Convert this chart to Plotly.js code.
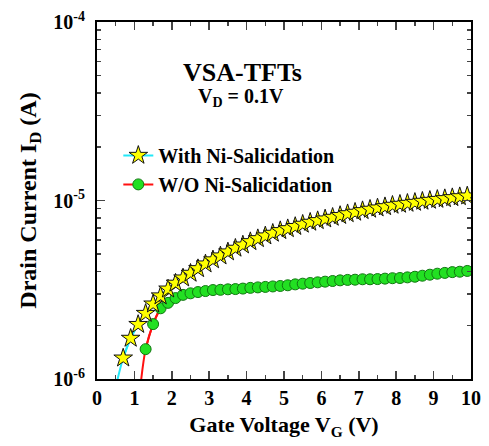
<!DOCTYPE html>
<html><head><meta charset="utf-8">
<script src="https://cdn.plot.ly/plotly-3.0.1.min.js"></script>
<style>body{margin:0;background:#fff}#c{width:489px;height:446px}</style>
</head><body><div id="c"></div>
<script>
// With Ni-Salicidation (stars)
const vgWith = [0.7,0.9,1.1,1.3,1.5,1.7,1.9,2.1,2.3,2.5,2.7,2.9,3.1,3.3,3.5,3.7,3.9,4.1,4.3,4.5,4.7,4.9,
  5.1,5.3,5.5,5.7,5.9,6.1,6.3,6.5,6.7,6.9,7.1,7.3,7.5,7.7,7.9,8.1,8.3,8.5,8.7,8.9,9.1,9.3,9.5,9.7,9.9];
const idWith = [1.31e-6,1.69e-6,2.02e-6,2.33e-6,2.63e-6,2.92e-6,3.19e-6,3.44e-6,3.68e-6,3.91e-6,4.15e-6,4.41e-6,
  4.65e-6,4.89e-6,5.15e-6,5.40e-6,5.63e-6,5.88e-6,6.11e-6,6.33e-6,6.55e-6,6.78e-6,
  6.95e-6,7.15e-6,7.36e-6,7.55e-6,7.71e-6,7.88e-6,8.05e-6,8.24e-6,8.43e-6,8.59e-6,8.77e-6,8.93e-6,9.08e-6,9.23e-6,
  9.40e-6,9.52e-6,9.64e-6,9.76e-6,9.90e-6,1.002e-5,1.014e-5,1.024e-5,1.037e-5,1.05e-5,1.06e-5];
// W/O Ni-Salicidation (circles)
const vgWo = [1.3,1.5,1.7,1.9,2.1,2.3,2.5,2.7,2.9,3.1,3.3,3.5,3.7,3.9,4.1,4.3,4.5,4.7,4.9,
  5.1,5.3,5.5,5.7,5.9,6.1,6.3,6.5,6.7,6.9,7.1,7.3,7.5,7.7,7.9,8.1,8.3,8.5,8.7,8.9,9.1,9.3,9.5,9.7,9.9];
const idWo = [1.47e-6,2.03e-6,2.49e-6,2.67e-6,2.84e-6,2.96e-6,3.02e-6,3.07e-6,3.11e-6,3.15e-6,3.16e-6,3.18e-6,3.19e-6,
  3.21e-6,3.24e-6,3.26e-6,3.28e-6,3.30e-6,3.32e-6,
  3.35e-6,3.39e-6,3.42e-6,3.45e-6,3.48e-6,3.51e-6,3.54e-6,3.57e-6,3.59e-6,3.60e-6,3.62e-6,3.62e-6,3.63e-6,3.65e-6,
  3.67e-6,3.68e-6,3.71e-6,3.74e-6,3.79e-6,3.84e-6,3.89e-6,3.93e-6,3.97e-6,3.99e-6,4.03e-6];
// line tails below the first marker (run off the bottom of the axis)
const tailWithX = [0.5], tailWithY = [9.0e-7];
const tailWoX = [1.1], tailWoY = [6.8e-7];

const yTickVals = [1e-6, 1e-5, 1e-4];
const yTickText = ['10<sup>-6</sup>', '10<sup>-5</sup>', '10<sup>-4</sup>'];
const xTickVals = [0,1,2,3,4,5,6,7,8,9,10];
const xTickText = ['0','1','2','3','4','5','6','7','8','9','10'];

const F = 'Liberation Serif, Times New Roman, serif';
const traces = [
  {x: tailWoX.concat(vgWo.slice(0,3)), y: tailWoY.concat(idWo.slice(0,3)), mode:'lines', line:{color:'#ff1010', width:2, shape:'spline'}, showlegend:false, hoverinfo:'skip'},
  {x: vgWo, y: idWo, mode:'lines+markers', name:'W/O Ni-Salicidation', line:{color:'#ff1010', width:2, shape:'spline'},
   marker:{symbol:'circle', size:11, color:'#22e022', line:{color:'#117711', width:1}}},
  {x: tailWithX.concat(vgWith.slice(0,3)), y: tailWithY.concat(idWith.slice(0,3)), mode:'lines', line:{color:'#22e8f8', width:2, shape:'spline'}, showlegend:false, hoverinfo:'skip'},
  {x: vgWith, y: idWith, mode:'lines+markers', name:'With Ni-Salicidation', line:{color:'#22e8f8', width:2, shape:'spline'},
   marker:{symbol:'star', size:14, color:'#ffff00', line:{color:'#111', width:1}}},
  {x: [], y: [], xaxis:'x2', yaxis:'y2', showlegend:false, hoverinfo:'skip'}
];
const tickCommon = {ticks:'inside', ticklen:8, tickwidth:1.5, showline:true, linewidth:2, linecolor:'#000',
  showgrid:false, zeroline:false};
const layout = {
  width:489, height:446,
  margin:{l:97, r:18, t:22, b:67},
  paper_bgcolor:'#fff', plot_bgcolor:'#fff',
  font:{family:F, color:'#000'},
  showlegend:true,
  legend:{x:0.057, y:0.681, xanchor:'left', yanchor:'top', traceorder:'reversed', bgcolor:'rgba(0,0,0,0)',
    font:{family:F, size:20, color:'#000', weight:'bold'}, itemwidth:30, tracegroupgap:0},
  xaxis:Object.assign({}, tickCommon, {range:[0,10], tickvals:xTickVals, ticktext:xTickText,
    minor:{dtick:0.5, ticks:'inside', ticklen:4, tickwidth:1.5, showgrid:false},
    tickfont:{family:F, size:20, weight:'bold'},
    title:{text:'Gate Voltage V<sub>G</sub> (V)', font:{family:F, size:22, weight:'bold'}, standoff:9}}),
  yaxis:Object.assign({}, tickCommon, {type:'log', range:[-6,-4], tickvals:yTickVals, ticktext:yTickText,
    minor:{dtick:'D1', ticks:'inside', ticklen:4, tickwidth:1.5, showgrid:false},
    tickfont:{family:F, size:20, weight:'bold'}, ticklabelstandoff:6,
    title:{text:'Drain Current I<sub>D</sub> (A)', font:{family:F, size:24, weight:'bold'}, standoff:10}}),
  xaxis2:Object.assign({}, tickCommon, {overlaying:'x', side:'top', range:[0,10], tickvals:xTickVals, showticklabels:false,
    minor:{dtick:0.5, ticks:'inside', ticklen:4, tickwidth:1.5, showgrid:false}}),
  yaxis2:Object.assign({}, tickCommon, {overlaying:'y', side:'right', type:'log', range:[-6,-4], tickvals:yTickVals, showticklabels:false,
    minor:{dtick:'D1', ticks:'inside', ticklen:4, tickwidth:1.5, showgrid:false}}),
  annotations:[
    {xref:'paper', yref:'paper', x:0.39, y:0.905, text:'VSA-TFTs', showarrow:false, font:{family:F, size:26, weight:'bold'}},
    {xref:'paper', yref:'paper', x:0.385, y:0.83, text:'V<sub>D</sub> = 0.1V', showarrow:false, font:{family:F, size:20, weight:'bold'}}
  ]
};
Plotly.newPlot('c', traces, layout, {displayModeBar:false, staticPlot:true});
</script></body></html>
